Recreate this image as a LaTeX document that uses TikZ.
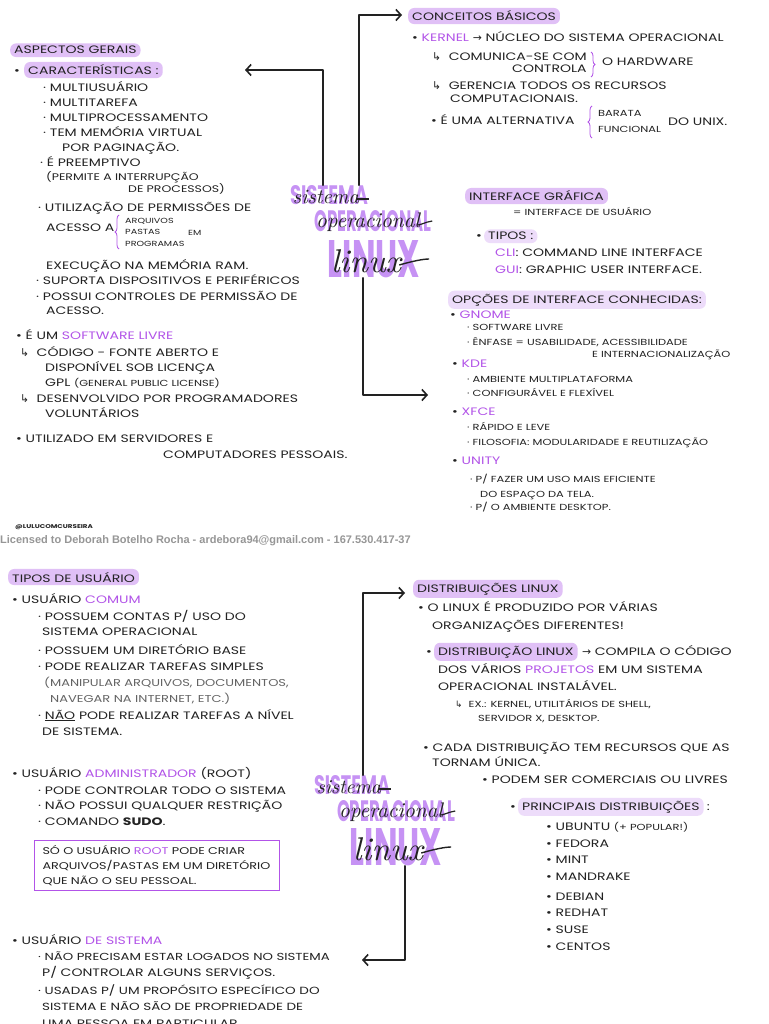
\documentclass[tikz,border=0pt]{standalone}
\usepackage{fontspec}
\usepackage{graphicx}
\setmainfont{Poppins}[FakeStretch=1.3]
\newfontfamily\sym{DejaVu Sans}
\newfontfamily\wmfont{Liberation Sans}
\newfontfamily\cursive{Latin Modern Roman}
\usetikzlibrary{arrows.meta,decorations.pathreplacing,positioning}
\definecolor{hl}{RGB}{224,192,246}
\definecolor{hlsoft}{RGB}{237,220,250}
\definecolor{purp}{RGB}{178,84,232}
\definecolor{ttl}{RGB}{198,146,244}
\definecolor{ink}{RGB}{34,34,34}
\definecolor{wm}{RGB}{150,150,150}
\newcommand{\hw}{\fontsize{10.8}{15}\selectfont}
\newcommand{\hwsm}{\fontsize{8.8}{10}\selectfont}
\newcommand{\hwxs}{\fontsize{7.4}{9}\selectfont}
\newcommand{\pu}[1]{{\color{purp}#1}}
\newcommand{\hk}{{\sym\char"21B3}}
\newcommand{\ra}{{\sym\char"2192}}
\tikzset{
  txt/.style={anchor=base west, inner sep=0pt, text=ink, font=\hw},
  small/.style={txt, font=\hwsm},
  tiny/.style={txt, font=\hwxs},
  pill/.style={txt, fill=hl, rounded corners=6pt, inner xsep=4pt, inner ysep=3pt},
  softpill/.style={pill, fill=hlsoft},
  link/.style={draw=ink, line width=1.6pt, line cap=round, line join=round,
    -{Straight Barb[length=5pt,width=11pt]}},
  curly/.style={draw=purp, line width=0.8pt, decorate, decoration={brace, amplitude=4pt}},
  bigword/.style={inner sep=0pt, text=ttl},
  script/.style={inner sep=0pt, text=ink},
  notebox/.style={draw=purp, line width=1pt, anchor=north west, align=left,
    inner xsep=8pt, inner ysep=5pt, text=ink, font=\fontsize{9.8}{15}\selectfont}
}
\begin{document}
\begin{tikzpicture}[x=1pt,y=-1pt]
\useasboundingbox[fill=white] (0,0) rectangle (768,1024);

% ---------- title, upper page
\node[bigword] (t1sis) at (329,195) {\resizebox{78pt}{19pt}{\bfseries SISTEMA}};
\node[bigword] (t1ope) at (373,221) {\resizebox{117pt}{21pt}{\bfseries OPERACIONAL}};
\node[bigword] (t1lin) at (374,259) {\resizebox{92pt}{37pt}{\bfseries LINUX}};
\node[script] (s1sis) at (326,197) {\resizebox{66pt}{!}{\cursive\itshape sistema}};
\node[script] (s1ope) at (368,222) {\resizebox{104pt}{!}{\cursive\itshape operacional}};
\node[script] (s1lin) at (366,261) {\resizebox{70pt}{!}{\cursive\itshape linux}};
\draw[ink, line width=1.2pt] (s1sis.east) ++(-2,2) -- ++(12,0);
\draw[ink, line width=1.2pt] (s1ope.east) ++(-2,3) .. controls ++(8,-2) and ++(-4,0) .. ++(14,-4);
\draw[ink, line width=1.4pt] (s1lin.east) ++(-2,4) .. controls ++(14,-4) and ++(-6,0) .. ++(30,-6);

% ---------- connectors, upper page
\coordinate (aspEnd) at (245,70);
\coordinate (cbEnd) at (402,15);
\coordinate (opEnd) at (428,395);
\draw[link] ([xshift=-6pt]t1sis.north) |- (aspEnd);
\draw[link] ([xshift=30pt]t1sis.north) |- (cbEnd);
\draw[link] ([xshift=-11pt]t1lin.south) |- (opEnd);

% ---------- aspectos gerais
\node[pill] (asp) at (10,54) {ASPECTOS GERAIS};
\node[txt] (carb) at (14,75) {•};
\node[pill] (carac) at (24,75) {CARACTERÍSTICAS :};
\node[txt] (a1) at (43,92) {· MULTIUSUÁRIO};
\node[txt] (a2) at (43,107) {· MULTITAREFA};
\node[txt] (a3) at (43,122) {· MULTIPROCESSAMENTO};
\node[txt] (a4) at (43,137) {· TEM MEMÓRIA VIRTUAL};
\node[txt] (a4b) at (62,152) {POR PAGINAÇÃO.};
\node[txt] (a5) at (40,167) {· É PREEMPTIVO};
\node[txt, font=\fontsize{9.6}{15}\selectfont] (a5b) at (46,181) {(PERMITE A INTERRUPÇÃO};
\node[txt, font=\fontsize{9.6}{15}\selectfont] (a5c) at (128,193) {DE PROCESSOS)};
\node[txt] (a6) at (38,212) {· UTILIZAÇÃO DE PERMISSÕES DE};
\node[txt] (a6b) at (46,232) {ACESSO A};
\draw[curly] (119,249) -- (119,215);
\node[tiny] (a6c) at (125,223) {ARQUIVOS};
\node[tiny] (a6d) at (125,235) {PASTAS};
\node[tiny] (a6e) at (125,247) {PROGRAMAS};
\node[tiny] (a6f) at (188,236) {EM};
\node[txt] (a6g) at (46,269) {EXECUÇÃO NA MEMÓRIA RAM.};
\node[txt] (a7) at (36,284) {· SUPORTA DISPOSITIVOS E PERIFÉRICOS};
\node[txt] (a8) at (36,300) {· POSSUI CONTROLES DE PERMISSÃO DE};
\node[txt] (a8b) at (46,314) {ACESSO.};
\node[txt] (sl) at (16,339) {• É UM \pu{SOFTWARE LIVRE}};
\node[txt] (sl1) at (20,356) {\hk\ \ CÓDIGO - FONTE ABERTO E};
\node[txt] (sl1b) at (45,371) {DISPONÍVEL SOB LICENÇA};
\node[txt] (sl1c) at (45,386) {GPL {\hwsm(GENERAL PUBLIC LICENSE)}};
\node[txt] (sl2) at (20,402) {\hk\ \ DESENVOLVIDO POR PROGRAMADORES};
\node[txt] (sl2b) at (45,417) {VOLUNTÁRIOS};
\node[txt] (srv) at (16,442) {• UTILIZADO EM SERVIDORES E};
\node[txt] (srvb) at (163,458) {COMPUTADORES PESSOAIS.};

% ---------- conceitos basicos
\node[pill] (cb) at (408,21) {CONCEITOS BÁSICOS};
\node[txt] (k1) at (412,42) {• \pu{KERNEL} \ra\ NÚCLEO DO SISTEMA OPERACIONAL};
\node[txt] (k2) at (432,61) {\hk\ \ COMUNICA-SE COM};
\node[txt] (k2b) at (512,73) {CONTROLA};
\draw[curly] (591,52) -- (591,77);
\node[txt] (k2c) at (602,66) {O HARDWARE};
\node[txt] (k3) at (432,90) {\hk\ \ GERENCIA TODOS OS RECURSOS};
\node[txt] (k3b) at (450,103) {COMPUTACIONAIS.};
\node[txt] (k4) at (431,125) {• É UMA ALTERNATIVA};
\draw[curly] (592,138) -- (592,106);
\node[small] (k4b) at (598,117) {BARATA};
\node[small] (k4c) at (598,133) {FUNCIONAL};
\node[txt] (k4d) at (668,126) {DO UNIX.};

% ---------- interface grafica
\node[pill] (ig) at (465,201) {INTERFACE GRÁFICA};
\node[small] (ig1) at (513,216) {= INTERFACE DE USUÁRIO};
\node[txt] (tpb) at (476,240) {•};
\node[softpill] (tp) at (484,240) {TIPOS :};
\node[txt] (cli) at (495,256) {\pu{CLI}: COMMAND LINE INTERFACE};
\node[txt] (gui) at (495,273) {\pu{GUI}: GRAPHIC USER INTERFACE.};

% ---------- opcoes de interface
\node[softpill] (op) at (448,303) {OPÇÕES DE INTERFACE CONHECIDAS:};
\node[txt] (gn) at (450,318) {• \pu{GNOME}};
\node[small] (gn1) at (467,330) {· SOFTWARE LIVRE};
\node[small] (gn2) at (467,345) {· ÊNFASE = USABILIDADE, ACESSIBILIDADE};
\node[small] (gn2b) at (592,357) {E INTERNACIONALIZAÇÃO};
\node[txt] (kde) at (452,367) {• \pu{KDE}};
\node[small] (kde1) at (467,382) {· AMBIENTE MULTIPLATAFORMA};
\node[small] (kde2) at (467,396) {· CONFIGURÁVEL E FLEXÍVEL};
\node[txt] (xf) at (452,415) {• \pu{XFCE}};
\node[small] (xf1) at (467,430) {· RÁPIDO E LEVE};
\node[small] (xf2) at (467,445) {· FILOSOFIA: MODULARIDADE E REUTILIZAÇÃO};
\node[txt] (un) at (452,464) {• \pu{UNITY}};
\node[small] (un1) at (470,482) {· P/ FAZER UM USO MAIS EFICIENTE};
\node[small] (un1b) at (480,497) {DO ESPAÇO DA TELA.};
\node[small] (un2) at (470,510) {· P/ O AMBIENTE DESKTOP.};

% ---------- footer
\node[txt, font=\fontsize{5.5}{6}\selectfont\bfseries] (tag) at (15,528) {@LULUCOMCURSEIRA};
\node[txt, text=wm, font=\wmfont\bfseries\fontsize{11}{12}\selectfont] (wmk) at (0,543)
  {Licensed to Deborah Botelho Rocha - ardebora94@gmail.com - 167.530.417-37};

% ---------- title, lower page
\node[bigword] (t2sis) at (352,785) {\resizebox{76pt}{19pt}{\bfseries SISTEMA}};
\node[bigword] (t2ope) at (396,811) {\resizebox{118pt}{21pt}{\bfseries OPERACIONAL}};
\node[bigword] (t2lin) at (396,847) {\resizebox{92pt}{37pt}{\bfseries LINUX}};
\node[script] (s2sis) at (349,787) {\resizebox{64pt}{!}{\cursive\itshape sistema}};
\node[script] (s2ope) at (391,812) {\resizebox{104pt}{!}{\cursive\itshape operacional}};
\node[script] (s2lin) at (388,849) {\resizebox{70pt}{!}{\cursive\itshape linux}};
\draw[ink, line width=1.2pt] (s2sis.east) ++(-2,2) -- ++(12,0);
\draw[ink, line width=1.2pt] (s2ope.east) ++(-2,3) .. controls ++(8,-2) and ++(-4,0) .. ++(14,-4);
\draw[ink, line width=1.4pt] (s2lin.east) ++(-2,4) .. controls ++(14,-4) and ++(-6,0) .. ++(30,-6);

% ---------- connectors, lower page
\coordinate (dlEnd) at (405,593);
\coordinate (usEnd) at (362,960);
\draw[link] ([xshift=11pt]t2sis.north) |- (dlEnd);
\draw[link] ([xshift=9pt]t2lin.south) |- (usEnd);

% ---------- tipos de usuario
\node[pill] (tu) at (8,582) {TIPOS DE USUÁRIO};
\node[txt] (uc) at (12,603) {• USUÁRIO \pu{COMUM}};
\node[txt] (uc1) at (38,620) {· POSSUEM CONTAS P/ USO DO};
\node[txt] (uc1b) at (42,635) {SISTEMA OPERACIONAL};
\node[txt] (uc2) at (38,654) {· POSSUEM UM DIRETÓRIO BASE};
\node[txt] (uc3) at (38,670) {· PODE REALIZAR TAREFAS SIMPLES};
\node[txt, text=ink!70, font=\fontsize{10}{15}\selectfont] (uc3b) at (44,686) {(MANIPULAR ARQUIVOS, DOCUMENTOS,};
\node[txt, text=ink!70, font=\fontsize{10}{15}\selectfont] (uc3c) at (50,702) {NAVEGAR NA INTERNET, ETC.)};
\node[txt] (uc4) at (38,719) {· \underline{NÃO} PODE REALIZAR TAREFAS A NÍVEL};
\node[txt] (uc4b) at (42,735) {DE SISTEMA.};
\node[txt] (ua) at (12,777) {• USUÁRIO \pu{ADMINISTRADOR} (ROOT)};
\node[txt] (ua1) at (38,794) {· PODE CONTROLAR TODO O SISTEMA};
\node[txt] (ua2) at (38,809) {· NÃO POSSUI QUALQUER RESTRIÇÃO};
\node[txt] (ua3) at (38,825) {· COMANDO \textbf{SUDO}.};
\node[notebox, text width=229pt] (root) at (34,840)
  {SÓ O USUÁRIO \pu{ROOT} PODE CRIAR\\ARQUIVOS/PASTAS EM UM DIRETÓRIO\\QUE NÃO O SEU PESSOAL.};
\node[txt] (us) at (12,944) {• USUÁRIO \pu{DE SISTEMA}};
\node[txt, font=\fontsize{10.2}{15}\selectfont] (us1) at (38,960) {· NÃO PRECISAM ESTAR LOGADOS NO SISTEMA};
\node[txt] (us1b) at (42,976) {P/ CONTROLAR ALGUNS SERVIÇOS.};
\node[txt, font=\fontsize{10.4}{15}\selectfont] (us2) at (38,994) {· USADAS P/ UM PROPÓSITO ESPECÍFICO DO};
\node[txt, font=\fontsize{10.4}{15}\selectfont] (us2b) at (42,1010) {SISTEMA E NÃO SÃO DE PROPRIEDADE DE};
\node[txt] (us2c) at (42,1027) {UMA PESSOA EM PARTICULAR.};

% ---------- distribuicoes linux
\node[pill] (dl) at (413,592) {DISTRIBUIÇÕES LINUX};
\node[txt] (d1) at (418,611) {• O LINUX É PRODUZIDO POR VÁRIAS};
\node[txt] (d1b) at (432,629) {ORGANIZAÇÕES DIFERENTES!};
\node[txt] (d2a) at (426,655) {•};
\node[pill] (d2) at (434,655) {DISTRIBUIÇÃO LINUX};
\node[txt] (d2b) at ([xshift=4pt]d2.base east) {\ra\ COMPILA O CÓDIGO};
\node[txt] (d2c) at (438,673) {DOS VÁRIOS \pu{PROJETOS} EM UM SISTEMA};
\node[txt] (d2d) at (438,690) {OPERACIONAL INSTALÁVEL.};
\node[small] (d2e) at (455,707) {\hk\ \ EX.: KERNEL, UTILITÁRIOS DE SHELL,};
\node[small] (d2f) at (478,721) {SERVIDOR X, DESKTOP.};
\node[txt] (d3) at (423,751) {• CADA DISTRIBUIÇÃO TEM RECURSOS QUE AS};
\node[txt] (d3b) at (432,766) {TORNAM ÚNICA.};
\node[txt] (d4) at (482,783) {• PODEM SER COMERCIAIS OU LIVRES};
\node[txt] (d5a) at (510,810) {•};
\node[softpill] (d5) at (518,810) {PRINCIPAIS DISTRIBUIÇÕES};
\node[txt] (d5b) at ([xshift=3pt]d5.base east) {:};
\node[txt] (ds1) at (546,830) {• UBUNTU {\hwsm(+ POPULAR!)}};
\node[txt] (ds2) at (546,847) {• FEDORA};
\node[txt] (ds3) at (546,863) {• MINT};
\node[txt] (ds4) at (546,880) {• MANDRAKE};
\node[txt] (ds5) at (546,900) {• DEBIAN};
\node[txt] (ds6) at (546,916) {• REDHAT};
\node[txt] (ds7) at (546,933) {• SUSE};
\node[txt] (ds8) at (546,950) {• CENTOS};
\end{tikzpicture}
\end{document}
